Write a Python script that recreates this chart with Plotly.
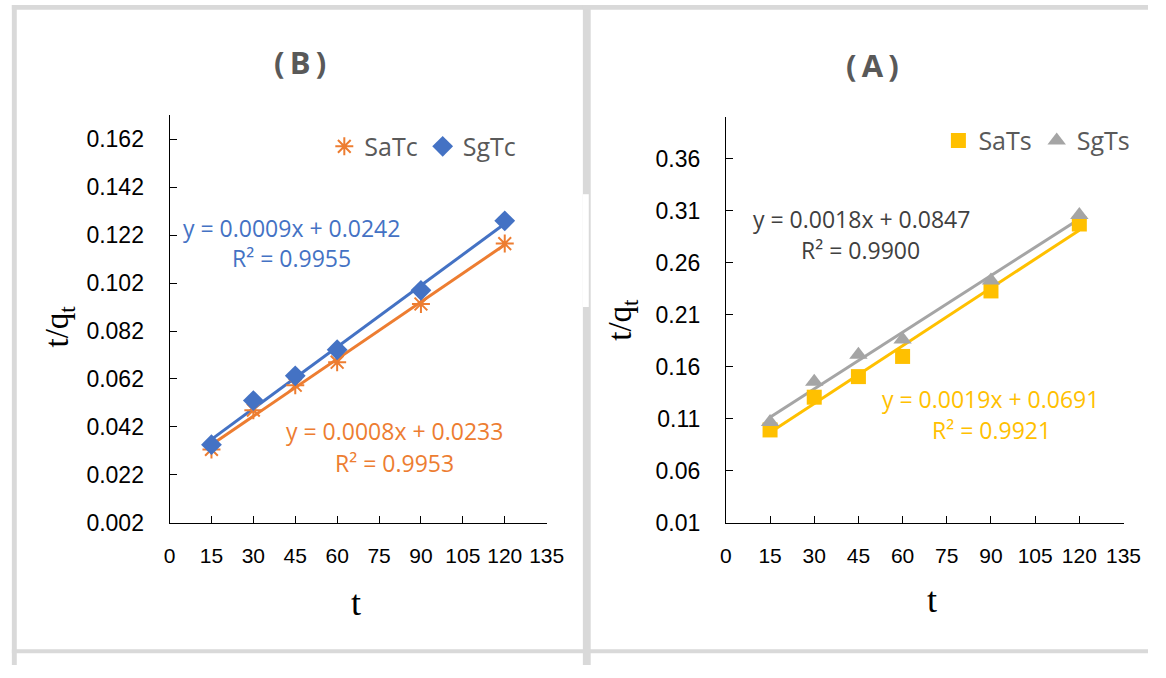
import numpy as np
import plotly.graph_objects as go

# ---------------- data ----------------
t_vals = [15, 30, 45, 60, 90, 120]
SaTc = [0.0326, 0.0490, 0.0594, 0.0690, 0.0933, 0.1185]
SgTc = [0.0346, 0.0530, 0.0633, 0.0742, 0.0990, 0.1280]
SaTs = [0.0993, 0.1308, 0.1506, 0.1700, 0.2330, 0.2974]
SgTs = [0.1070, 0.1456, 0.1716, 0.1864, 0.2430, 0.3060]
eq_SaTc = ["y = 0.0008x + 0.0233", "R² = 0.9953"]
eq_SgTc = ["y = 0.0009x + 0.0242", "R² = 0.9955"]
eq_SaTs = ["y = 0.0019x + 0.0691", "R² = 0.9921"]
eq_SgTs = ["y = 0.0018x + 0.0847", "R² = 0.9900"]

W, H = 1166, 678
def px(x):
    return x / W
def py(y):
    return 1 - y / H

ORANGE = "#ED7D31"
BLUE = "#4472C4"
YELLOW = "#FFC000"
GRAY = "#A5A5A5"
DARK = "#595959"
BORDER = "#D9D9D9"

fig = go.Figure()

def trend(xs, ys):
    a, b = np.polyfit(xs, ys, 1)
    x0, x1 = min(xs), max(xs)
    return [x0, x1], [a * x0 + b, a * x1 + b]

# Left panel (B)
tx, ty = trend(t_vals, SaTc)
fig.add_trace(go.Scatter(x=tx, y=ty, mode="lines", line=dict(color=ORANGE, width=3),
                         showlegend=False, xaxis="x", yaxis="y", hoverinfo="skip"))
tx, ty = trend(t_vals, SgTc)
fig.add_trace(go.Scatter(x=tx, y=ty, mode="lines", line=dict(color=BLUE, width=3),
                         showlegend=False, xaxis="x", yaxis="y", hoverinfo="skip"))
fig.add_trace(go.Scatter(x=t_vals, y=SaTc, mode="markers", name="SaTc",
                         marker=dict(symbol="asterisk-open", size=15, color=ORANGE,
                                     line=dict(color=ORANGE, width=2)),
                         xaxis="x", yaxis="y", legend="legend"))
fig.add_trace(go.Scatter(x=t_vals, y=SgTc, mode="markers", name="SgTc",
                         marker=dict(symbol="diamond", size=16, color=BLUE),
                         xaxis="x", yaxis="y", legend="legend"))

# Right panel (A)
tx, ty = trend(t_vals, SaTs)
fig.add_trace(go.Scatter(x=tx, y=ty, mode="lines", line=dict(color=YELLOW, width=3),
                         showlegend=False, xaxis="x2", yaxis="y2", hoverinfo="skip"))
tx, ty = trend(t_vals, SgTs)
fig.add_trace(go.Scatter(x=tx, y=ty, mode="lines", line=dict(color=GRAY, width=3),
                         showlegend=False, xaxis="x2", yaxis="y2", hoverinfo="skip"))
fig.add_trace(go.Scatter(x=t_vals, y=SaTs, mode="markers", name="SaTs",
                         marker=dict(symbol="square", size=15, color=YELLOW),
                         xaxis="x2", yaxis="y2", legend="legend2"))
fig.add_trace(go.Scatter(x=t_vals, y=SgTs, mode="markers", name="SgTs",
                         marker=dict(symbol="triangle-up", size=16, color=GRAY),
                         xaxis="x2", yaxis="y2", legend="legend2"))

xtickfont = dict(family="Liberation Sans, Arial, sans-serif", size=21, color="black")
ytickfont = dict(family="Liberation Sans, Arial, sans-serif", size=23, color="black")
common_x = dict(range=[0, 135], tick0=0, dtick=15, showline=True, linecolor="black",
                linewidth=1, ticks="inside", ticklen=7, tickcolor="black",
                showgrid=False, zeroline=False, tickfont=xtickfont, ticklabelstandoff=14)
common_y = dict(showline=True, linecolor="black", linewidth=1, ticks="inside",
                ticklen=7, tickcolor="black", showgrid=False, zeroline=False,
                tickfont=ytickfont, ticklabelstandoff=20)

legfont = dict(family="Open Sans, sans-serif", size=25, color=DARK)
fig.update_layout(
    width=W, height=H,
    margin=dict(l=0, r=0, t=0, b=0),
    paper_bgcolor="white", plot_bgcolor="white",
    xaxis=dict(domain=[px(167), px(552)], anchor="y", **common_x),
    yaxis=dict(domain=[py(533), py(117.6)], anchor="x", range=[0.002, 0.172],
               tick0=0.002, dtick=0.02, tickformat=".3f", **common_y),
    xaxis2=dict(domain=[px(735), px(1141)], anchor="y2", **common_x),
    yaxis2=dict(domain=[py(533), py(119.6)], anchor="x2", range=[0.01, 0.40],
                tick0=0.01, dtick=0.05, tickformat=".2f", **common_y),
    legend=dict(orientation="h", x=px(325), y=py(126), xanchor="left", yanchor="top",
                font=legfont, bgcolor="rgba(0,0,0,0)", itemwidth=30, tracegroupgap=0),
    legend2=dict(orientation="h", x=px(952), y=py(120), xanchor="left", yanchor="top",
                 font=legfont, bgcolor="rgba(0,0,0,0)", itemwidth=30, tracegroupgap=0),
)

ann = []
def add_text(x, y, text, size, color, family="Open Sans, sans-serif", angle=0):
    ann.append(dict(x=px(x), y=py(y), xref="paper", yref="paper", text=text,
                    showarrow=False, xanchor="center", yanchor="middle",
                    textangle=angle, font=dict(family=family, size=size, color=color)))

# titles
add_text(300, 63, "<b>(\u2009B\u2009)</b>", 31, DARK)
add_text(885, 66, "<b>(\u2009A\u2009)</b>", 31, DARK)
# axis titles
serif = "Liberation Serif, Times New Roman, serif"
add_text(55, 333, "t/q<sub>t</sub>", 33, "black", serif, -90)
add_text(630, 326, "t/q<sub>t</sub>", 33, "black", serif, -90)
add_text(357, 615, "t", 36, "black", serif)
add_text(945, 612, "t", 36, "black", serif)
# equations
EQ = 23
add_text(291, 232, eq_SgTc[0], EQ, BLUE)
add_text(292, 263, eq_SgTc[1], EQ, BLUE)
add_text(397, 439, eq_SaTc[0], EQ, ORANGE)
add_text(397, 472, eq_SaTc[1], EQ, ORANGE)
add_text(873, 223, eq_SgTs[0], EQ, "#404040")
add_text(872, 255, eq_SgTs[1], EQ, "#404040")
add_text(1005, 407, eq_SaTs[0], EQ, YELLOW)
add_text(1006, 438, eq_SaTs[1], EQ, YELLOW)
fig.update_layout(annotations=ann)

# table-like gray borders
shapes = []
def rect(x0, y0, x1, y1, color):
    shapes.append(dict(type="rect", xref="paper", yref="paper",
                       x0=px(x0), x1=px(x1), y0=py(y1), y1=py(y0),
                       fillcolor=color, line=dict(width=0), layer="above"))
rect(6, 5, W, 10, BORDER)
rect(6, 5, 11, H, BORDER)
rect(589, 5, 597, H, BORDER)
rect(6, 662, W, 666, BORDER)
rect(589, 198, 595, 313, "white")
fig.update_layout(shapes=shapes)

fig.write_html("out.html")
